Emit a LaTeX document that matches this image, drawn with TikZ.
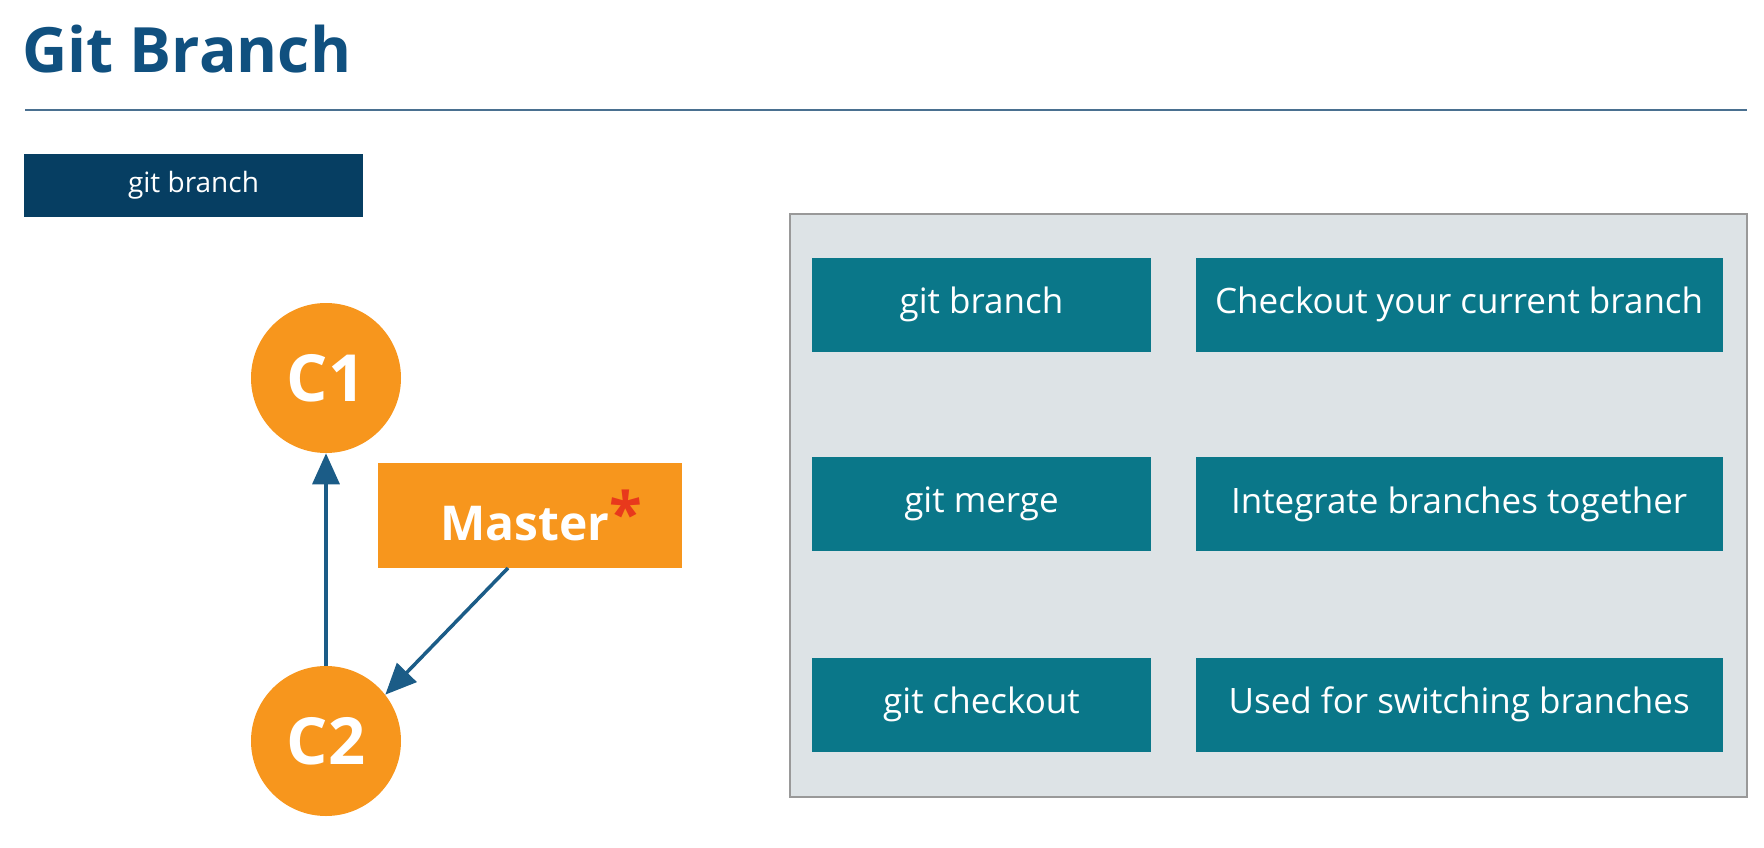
\documentclass[tikz,border=0pt]{standalone}
\usepackage{fontspec}
\setmainfont{Open Sans}
\usepackage{tikz}
\usetikzlibrary{arrows.meta,positioning}

\definecolor{titleblue}{HTML}{10507F}
\definecolor{ruleblue}{HTML}{4A7090}
\definecolor{navy}{HTML}{063E62}
\definecolor{teal}{HTML}{0A7789}
\definecolor{gitorange}{HTML}{F7961D}
\definecolor{arrowblue}{HTML}{1B5C87}
\definecolor{panelgrey}{HTML}{DDE3E6}
\definecolor{astred}{HTML}{E8391C}

\begin{document}
\begin{tikzpicture}
          [x=1pt,y=-1pt,semithick]
          \tikzstyle{cmd}=[fill=teal,text=white,inner sep=0pt,minimum width=339pt,minimum height=94pt,font=\fontsize{35}{40}\selectfont]
          \tikzstyle{desc}=[cmd,minimum width=527pt]
          \tikzstyle{commit}=[circle,fill=gitorange,text=white,inner sep=0pt,minimum size=150pt,font=\fontsize{65}{70}\selectfont\bfseries]
          \tikzstyle{link}=[-{Triangle[length=31pt,width=27pt]},draw=arrowblue,line width=3.5pt]

          \useasboundingbox (0,0) rectangle (1764,848);

          % heading
          \node[anchor=base west,inner sep=0pt,text=titleblue,font=\fontsize{62.5}{70}\selectfont\bfseries] (title) at (22,73) {Git Branch};
          \coordinate (ruleL) at (25,110);
          \coordinate (ruleR) at (1747,110);
          \draw[ruleblue,line width=1.5pt] (ruleL) -- (ruleR);
          \node[fill=navy,text=white,inner sep=0pt,minimum width=339pt,minimum height=63pt,font=\fontsize{28}{32}\selectfont] (tab) at (193.5,185.5) {git branch};

          % commits
          \node[commit] (c1) at (326,378) {C1};
          \node[commit] (c2) at (326,741) {C2};
          \node[fill=gitorange,text=white,inner sep=0pt,minimum width=304pt,minimum height=105pt,font=\fontsize{48}{52}\selectfont\bfseries] (master) at (530,515.5) {\hspace{22pt}Master\textcolor{astred}{\raisebox{5pt}{\scalebox{1.25}{*}}}};
          \coordinate (mfoot) at (508,568);

          \draw[link] (c2) -- (c1);
          \draw[link] (mfoot) -- (c2.38);

          % command table
          \draw[draw=gray!80,fill=panelgrey,line width=1.2pt] (790,214) rectangle (1747,797);
          \node[cmd] (branch) at (981.5,304.5) {git branch};
          \node[cmd] (merge) at (981.5,504) {git merge};
          \node[cmd] (checkout) at (981.5,704.5) {git checkout};
          \node[desc] (branchd) [right=44pt of branch] {Checkout your current branch};
          \node[desc] (merged) [right=44pt of merge] {Integrate branches together};
          \node[desc] (checkoutd) [right=44pt of checkout] {Used for switching branches};
        \end{tikzpicture}
\end{document}
